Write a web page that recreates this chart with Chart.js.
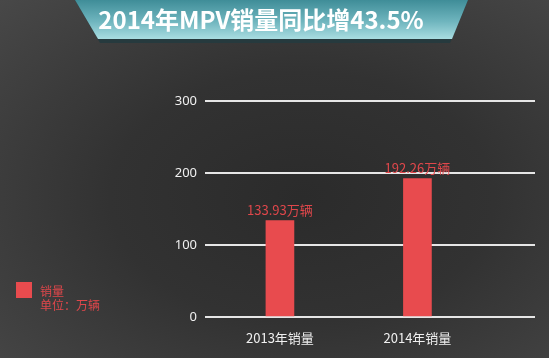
<!DOCTYPE html>
<html>
<head>
<meta charset="utf-8">
<script src="https://cdn.jsdelivr.net/npm/chart.js@4/dist/chart.umd.min.js"></script>
<style>
  html, body { margin: 0; padding: 0; }
  body {
    width: 549px; height: 358px; overflow: hidden; position: relative;
    background: radial-gradient(ellipse at 55% 55%, #2b2b2b 0%, #323232 45%, #484848 100%);
    font-family: "Noto Sans CJK SC", "DejaVu Sans", sans-serif;
  }
  #wrap { position: absolute; left: 0; top: 0; width: 549px; height: 358px; }
  .banner-shadow {
    position: absolute; left: 0; top: 0; width: 549px; height: 43px;
    background: #263a3e;
    clip-path: polygon(75px 0, 468px 0, 450px 43px, 100px 43px);
  }
  .banner {
    position: absolute; left: 0; top: 0; width: 549px; height: 39px;
    background: linear-gradient(180deg, #3f8d98 0%, #6fb5be 55%, #a9dde1 100%);
    clip-path: polygon(75px 0, 468px 0, 452px 39px, 98px 39px);
  }
  .title {
    position: absolute; left: 0; top: 4px; width: 522px; text-align: center;
    color: #fff; font-weight: bold; font-size: 24px; line-height: 30px;
  }
  .legend { position: absolute; left: 16px; top: 282px; color: #e0474b; font-size: 12px; }
  .legend .box { position: absolute; left: 0; top: 0; width: 16px; height: 16px; background: #e84b4e; }
  .legend .t1 { position: absolute; left: 24px; top: 0; white-space: nowrap; }
  .legend .t2 { position: absolute; left: 24px; top: 14px; white-space: nowrap; }
</style>
</head>
<body>
<div id="wrap"><canvas id="myChart" width="549" height="358"></canvas></div>
<div class="banner-shadow"></div>
<div class="banner"></div>
<div class="title">2014年MPV销量同比增43.5%</div>
<div class="legend"><div class="box"></div><div class="t1">销量</div><div class="t2">单位：万辆</div></div>
<script>
var categories = ["2013年销量", "2014年销量"];
var sales = [133.93, 192.26];
var valueLabels = ["133.93万辆", "192.26万辆"];
var yTicks = [0, 100, 200, 300];

var barLabels = {
    id: "barLabels",
    afterDatasetsDraw: function (chart) {
        var ctx = chart.ctx;
        var meta = chart.getDatasetMeta(0);
        ctx.save();
        ctx.fillStyle = "#e0474b";
        ctx.font = "13px 'Noto Sans CJK SC', sans-serif";
        ctx.textAlign = "center";
        ctx.textBaseline = "bottom";
        meta.data.forEach(function (bar, i) {
            ctx.fillText(valueLabels[i], bar.x, bar.y - 4);
        });
        ctx.restore();
    }
};

var ctx = document.getElementById("myChart").getContext("2d");
new Chart(ctx, {
    type: "bar",
    data: {
        datasets: [
            {
                label: "销量",
                data: categories.map(function (c, i) { return { x: i, y: sales[i] }; }),
                backgroundColor: "#e84b4e",
                barThickness: 28
            }
        ]
    },
    options: {
        responsive: false,
        animation: false,
        layout: { padding: { left: 160, top: 101, right: 14, bottom: 0 } },
        plugins: {
            legend: { display: false },
            tooltip: { enabled: false }
        },
        scales: {
            x: {
                type: "linear",
                min: -0.545,
                max: 1.855,
                offset: false,
                grid: { display: false, offset: false },
                border: { display: false },
                afterFit: function (scale) { scale.height = 41; },
                afterBuildTicks: function (scale) {
                    scale.ticks = categories.map(function (c, i) { return { value: i }; });
                },
                ticks: {
                    autoSkip: false,
                    maxRotation: 0,
                    padding: 5,
                    color: "#f0f0f0",
                    font: { size: 13, family: "'Noto Sans CJK SC', sans-serif" },
                    callback: function (v) { return categories[v] || ""; }
                }
            },
            y: {
                min: 0,
                max: 300,
                afterFit: function (scale) { scale.width = 45; },
                afterBuildTicks: function (scale) {
                    scale.ticks = yTicks.map(function (v) { return { value: v }; });
                },
                grid: { color: "#e6e6e6", lineWidth: 2, drawTicks: false },
                border: { display: false },
                ticks: {
                    padding: 8,
                    color: "#f0f0f0",
                    font: { size: 13, family: "'Noto Sans', sans-serif" }
                }
            }
        }
    },
    plugins: [barLabels]
});
</script>
</body>
</html>
